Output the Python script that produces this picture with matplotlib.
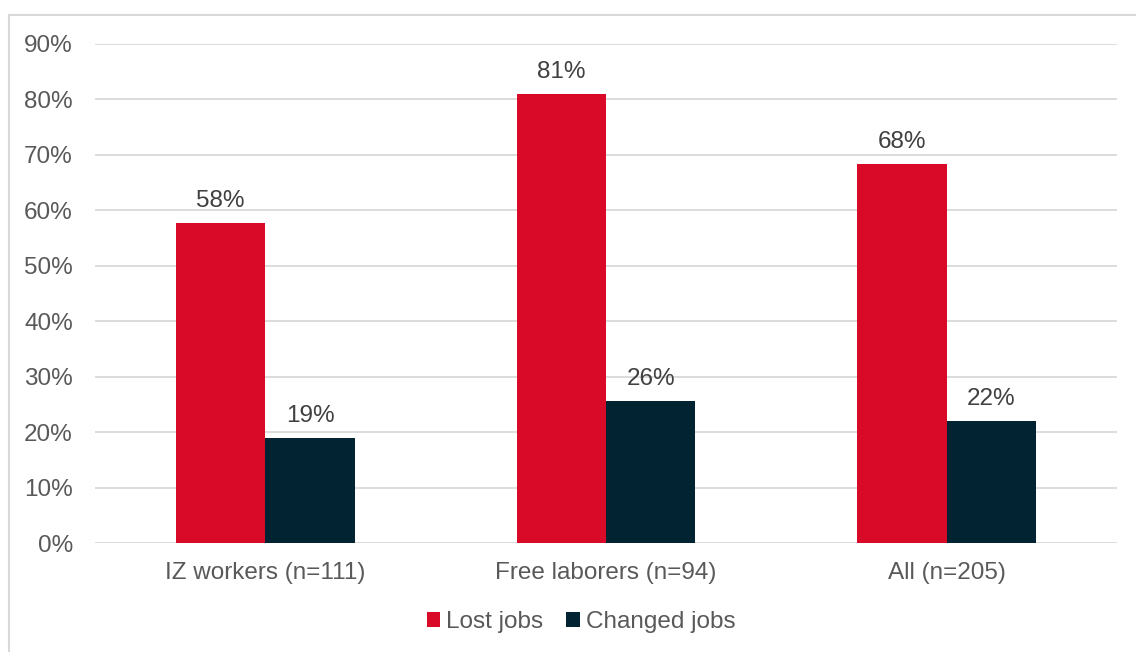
import matplotlib
matplotlib.use("Agg")
import matplotlib.pyplot as plt
import numpy as np
from matplotlib.patches import Rectangle

categories = ["IZ workers (n=111)", "Free laborers (n=94)", "All (n=205)"]
series_names = ["Lost jobs", "Changed jobs"]
lost_jobs = [57.7, 80.9, 68.3]
changed_jobs = [18.9, 25.6, 22.0]
yticks = [0, 10, 20, 30, 40, 50, 60, 70, 80, 90]

plt.rcParams['font.family'] = ['Liberation Sans', 'DejaVu Sans']
FS = 17.5

W, H = 1136, 652
fig = plt.figure(figsize=(W / 100, H / 100), dpi=100)
ax = fig.add_axes([95 / W, 1 - 543 / H, (1117 - 95) / W, (543 - 44) / H])

# outer frame
fig.patches.append(Rectangle((9 / W, -0.01), 1.02, 1 - 15 / H + 0.01, transform=fig.transFigure,
                             fill=False, edgecolor='#d9d9d9', linewidth=1.5))

x = np.arange(len(categories))
bw = 0.262
red = '#d90a27'
dark = '#022331'
b1 = ax.bar(x - bw / 2, lost_jobs, bw, color=red, label=series_names[0], zorder=3)
b2 = ax.bar(x + bw / 2, changed_jobs, bw, color=dark, label=series_names[1], zorder=3)

for bars, vals in ((b1, lost_jobs), (b2, changed_jobs)):
    for rect, v in zip(bars, vals):
        ax.annotate(f"{v:.0f}%", (rect.get_x() + rect.get_width() / 2, v),
                    xytext=(0, 8), textcoords='offset points', ha='center', va='bottom',
                    fontsize=FS, color='#404040')

ax.set_xlim(-0.5, 2.5)
ax.set_ylim(0, 90)
ax.set_yticks(yticks)
ax.set_yticklabels([f"{t}%" for t in yticks])
ax.set_xticks(x)
ax.set_xticklabels(categories)
ax.tick_params(axis='both', length=0, labelsize=FS, labelcolor='#595959')
ax.tick_params(axis='y', pad=16)
ax.tick_params(axis='x', pad=14)
ax.grid(axis='y', color='#d9d9d9', linewidth=1.3, zorder=0)
for s in ax.spines.values():
    s.set_visible(False)

leg = fig.legend(handles=[b1, b2], labels=series_names, loc='center', bbox_to_anchor=(581 / W, 1 - 622 / H),
                 ncol=2, frameon=False, fontsize=FS, handlelength=0.55, handleheight=0.55,
                 handletextpad=0.25, columnspacing=0.95, labelcolor='#595959')

fig.savefig("out.png", dpi=100)
